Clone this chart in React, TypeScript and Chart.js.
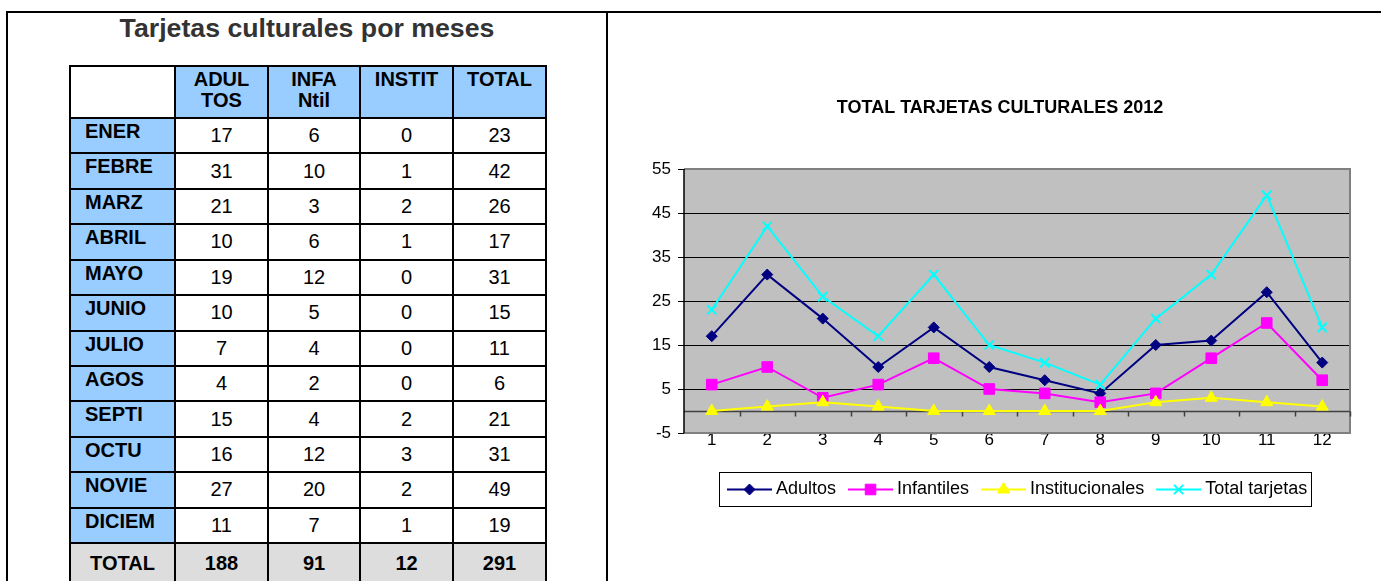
import React, { useEffect, useRef } from "react";
import { Chart, registerables } from "chart.js";
import { drawPoint } from "chart.js/helpers";

Chart.register(...registerables);

// ---- data ----
const tableTitle = "Tarjetas culturales por meses";
const chartTitle = "TOTAL TARJETAS CULTURALES 2012";
const months = ["ENER", "FEBRE", "MARZ", "ABRIL", "MAYO", "JUNIO", "JULIO", "AGOS", "SEPTI", "OCTU", "NOVIE", "DICIEM"];
const tableHeaders = [["ADUL", "TOS"], ["INFA", "Ntil"], ["INSTIT"], ["TOTAL"]];
const totalRowLabel = "TOTAL";
const adultos = [17, 31, 21, 10, 19, 10, 7, 4, 15, 16, 27, 11];
const infantiles = [6, 10, 3, 6, 12, 5, 4, 2, 4, 12, 20, 7];
const institucionales = [0, 1, 2, 1, 0, 0, 0, 0, 2, 3, 2, 1];
const totalTarjetas = [23, 42, 26, 17, 31, 15, 11, 6, 21, 31, 49, 19];
const columnTotals = [188, 91, 12, 291];
const xLabels = ["1", "2", "3", "4", "5", "6", "7", "8", "9", "10", "11", "12"];
const seriesNames = ["Adultos", "Infantiles", "Institucionales", "Total tarjetas"];
const yMin = -5;
const yMax = 55;
const yStep = 10;

const FONT = '"Liberation Sans", Arial, sans-serif';

// ---- table geometry ----
const colX = [70, 175, 268, 360, 453, 546];
const headerTop = 66;
const headerBottom = 118;
const rowH = 35.42;
const rowY: number[] = [headerTop, headerBottom];
for (let i = 1; i <= months.length; i++) rowY.push(headerBottom + rowH * i);
rowY.push(rowY[rowY.length - 1] + 40);

function Cell(props: { r: number; c: number; bg: string; children?: any; style?: any }) {
  const { r, c, bg, children, style } = props;
  return (
    <div
      style={{
        position: "absolute",
        left: colX[c] - 1,
        top: rowY[r] - 1,
        width: colX[c + 1] - colX[c] + 2,
        height: rowY[r + 1] - rowY[r] + 2,
        border: "2px solid #000",
        boxSizing: "border-box",
        background: bg,
        fontFamily: FONT,
        fontSize: 20,
        color: "#000",
        ...style,
      }}
    >
      {children}
    </div>
  );
}

const boxLegend = {
  id: "boxLegend",
  afterDraw(chart: any) {
    const ctx = chart.ctx as CanvasRenderingContext2D;
    const box = { x: 109, y: 458, w: 592, h: 34 };
    ctx.save();
    ctx.strokeStyle = "#000";
    ctx.lineWidth = 1;
    ctx.strokeRect(box.x + 0.5, box.y + 0.5, box.w, box.h);
    ctx.font = `18px ${FONT}`;
    ctx.textBaseline = "middle";
    ctx.textAlign = "left";
    const cy = box.y + box.h / 2 + 0.5;
    let x = box.x + 8;
    chart.data.datasets.forEach((ds: any) => {
      ctx.strokeStyle = ds.borderColor;
      ctx.lineWidth = 2;
      ctx.beginPath();
      ctx.moveTo(x, cy);
      ctx.lineTo(x + 45, cy);
      ctx.stroke();
      ctx.fillStyle = ds.backgroundColor;
      ctx.strokeStyle = ds.borderColor;
      ctx.lineWidth = ds.pointBorderWidth;
      drawPoint(ctx, { pointStyle: ds.pointStyle, radius: ds.pointRadius, rotation: 0, borderWidth: ds.pointBorderWidth }, x + 22.5, cy);
      ctx.fillStyle = "#000";
      ctx.fillText(ds.label, x + 49, cy);
      x += 49 + ctx.measureText(ds.label).width + 12;
    });
    ctx.restore();
  },
};

const plotDecor = {
  id: "plotDecor",
  beforeDraw(chart: any) {
    const { ctx, chartArea: a } = chart;
    ctx.save();
    ctx.fillStyle = "#c0c0c0";
    ctx.fillRect(a.left, a.top, a.right - a.left, a.bottom - a.top);
    ctx.restore();
  },
  beforeDatasetsDraw(chart: any) {
    const { ctx, chartArea: a, scales } = chart;
    const xs = scales.x;
    const ys = scales.y;
    ctx.save();
    // gray frame top/right/bottom
    ctx.strokeStyle = "#808080";
    ctx.lineWidth = 2;
    ctx.beginPath();
    ctx.moveTo(a.left, a.top);
    ctx.lineTo(a.right, a.top);
    ctx.lineTo(a.right, a.bottom);
    ctx.lineTo(a.left, a.bottom);
    ctx.stroke();
    // zero axis with category-boundary ticks
    const y0 = Math.round(ys.getPixelForValue(0)) + 0.5;
    ctx.strokeStyle = "#404040";
    ctx.lineWidth = 1.5;
    ctx.beginPath();
    ctx.moveTo(a.left, y0);
    ctx.lineTo(a.right, y0);
    const n = xLabels.length;
    const step = xs.getPixelForValue(1) - xs.getPixelForValue(0);
    for (let i = 0; i < n; i++) {
      const bx = Math.round(xs.getPixelForValue(i) + step / 2) + 0.5;
      ctx.moveTo(bx, y0);
      ctx.lineTo(bx, y0 + 5);
    }
    ctx.stroke();
    // black y-axis line
    ctx.strokeStyle = "#000";
    ctx.lineWidth = 1.5;
    ctx.beginPath();
    ctx.moveTo(a.left, a.top);
    ctx.lineTo(a.left, a.bottom);
    ctx.stroke();
    ctx.restore();
  },
};

function LineChart() {
  const ref = useRef<HTMLCanvasElement | null>(null);
  useEffect(() => {
    if (!ref.current) return;
    const mk = (label: string, data: number[], color: string, style: string, radius: number, bw: number, order: number) => ({
      label,
      data,
      borderColor: color,
      backgroundColor: color,
      borderWidth: 2,
      pointStyle: style,
      pointRadius: radius,
      pointBorderWidth: bw,
      pointBackgroundColor: color,
      pointBorderColor: color,
      tension: 0,
      order,
    });
    const chart = new Chart(ref.current, {
      type: "line",
      data: {
        labels: xLabels,
        datasets: [
          mk(seriesNames[0], adultos, "#000080", "rectRot", 5.5, 1, 4),
          mk(seriesNames[1], infantiles, "#ff00ff", "rect", 7.5, 1, 3),
          mk(seriesNames[2], institucionales, "#ffff00", "triangle", 7, 1, 2),
          mk(seriesNames[3], totalTarjetas, "#00ffff", "crossRot", 6.5, 2, 1),
        ] as any,
      },
      options: {
        animation: false,
        responsive: false,
        events: [],
        layout: { padding: { left: 40, right: 31, top: 0, bottom: 118 } },
        plugins: {
          legend: { display: false },
          tooltip: { enabled: false },
          title: {
            display: true,
            text: chartTitle,
            color: "#000",
            font: { family: FONT, size: 18, weight: "bold" },
            padding: { top: 83, bottom: 50.4 },
          },
        },
        scales: {
          x: {
            type: "category",
            offset: true,
            grid: { display: false, drawTicks: false },
            border: { display: false },
            ticks: { color: "#000", font: { family: FONT, size: 17 }, padding: -3, autoSkip: false, maxRotation: 0 },
            afterFit: (s: any) => {
              s.height = 30;
            },
          },
          y: {
            min: yMin,
            max: yMax,
            ticks: { stepSize: yStep, color: "#000", font: { family: FONT, size: 17 }, padding: 7 },
            grid: {
              color: (c: any) => (c.tick && (c.tick.value === yMin || c.tick.value === yMax) ? "rgba(0,0,0,0)" : "#000"),
              lineWidth: 1,
              drawTicks: true,
              tickLength: 6,
              tickColor: "#000",
            },
            border: { display: false },
            afterFit: (s: any) => {
              s.width = 34;
            },
          },
        },
      } as any,
      plugins: [plotDecor, boxLegend],
    });
    return () => chart.destroy();
  }, []);
  return <canvas ref={ref} width={771} height={567} style={{ position: "absolute", left: 610, top: 14, width: 771, height: 567 }} />;
}

export default function App() {
  const cells: any[] = [];
  // header row
  cells.push(<Cell key="h0" r={0} c={0} bg="#fff" />);
  tableHeaders.forEach((h, i) => {
    cells.push(
      <Cell key={"h" + (i + 1)} r={0} c={i + 1} bg="#99ccff" style={{ fontWeight: "bold", textAlign: "center", lineHeight: "21px", paddingTop: 2 }}>
        {h.map((t, k) => (
          <div key={k}>{t}</div>
        ))}
      </Cell>
    );
  });
  months.forEach((m, r) => {
    const vals = [adultos[r], infantiles[r], institucionales[r], totalTarjetas[r]];
    cells.push(
      <Cell key={"m" + r} r={r + 1} c={0} bg="#99ccff" style={{ fontWeight: "bold", paddingLeft: 14, lineHeight: "24px", paddingTop: 0 }}>
        {m}
      </Cell>
    );
    vals.forEach((v, c) => {
      cells.push(
        <Cell key={"v" + r + "_" + c} r={r + 1} c={c + 1} bg="#fff" style={{ display: "flex", alignItems: "center", justifyContent: "center" }}>
          {v}
        </Cell>
      );
    });
  });
  const tr = months.length + 1;
  cells.push(
    <Cell key="t0" r={tr} c={0} bg="#dddddd" style={{ fontWeight: "bold", display: "flex", alignItems: "center", justifyContent: "center" }}>
      {totalRowLabel}
    </Cell>
  );
  columnTotals.forEach((v, c) => {
    cells.push(
      <Cell key={"t" + (c + 1)} r={tr} c={c + 1} bg="#dddddd" style={{ fontWeight: "bold", display: "flex", alignItems: "center", justifyContent: "center" }}>
        {v}
      </Cell>
    );
  });

  return (
    <div style={{ position: "absolute", left: 0, top: 0, width: 1381, height: 581, overflow: "hidden", background: "#fff" }}>
      <div style={{ position: "absolute", left: 6, top: 11, width: 1375, height: 2, background: "#000" }} />
      <div style={{ position: "absolute", left: 6, top: 11, width: 2, height: 570, background: "#000" }} />
      <div style={{ position: "absolute", left: 606, top: 11, width: 2, height: 570, background: "#000" }} />
      <div
        style={{
          position: "absolute",
          left: 8,
          width: 598,
          top: 12,
          textAlign: "center",
          fontFamily: FONT,
          fontWeight: "bold",
          fontSize: 26.7,
          lineHeight: "32px",
          color: "#333",
        }}
      >
        {tableTitle}
      </div>
      {cells}
      <LineChart />
    </div>
  );
}
